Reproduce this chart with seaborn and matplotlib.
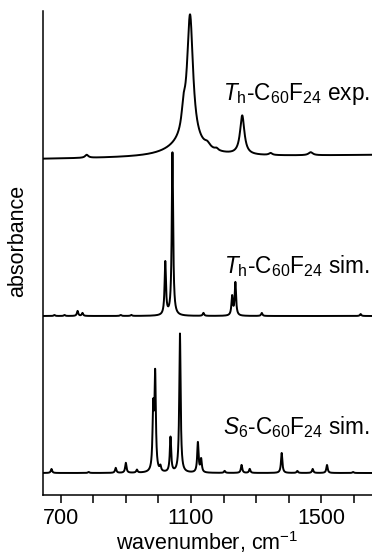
import numpy as np
import pandas as pd
import matplotlib
matplotlib.use("Agg")
import matplotlib.pyplot as plt
import seaborn as sns

# ---------------- data ----------------
# wavenumber range of the axis
x_range = [646, 1655]
tick_major = [700, 1100, 1500]
tick_minor = [800, 900, 1000, 1200, 1300, 1400, 1600]

# experimental Th-C60F24 spectrum: band centres, heights, half-widths
exp_pos = [1097, 1077, 1085, 1257, 780, 1150, 1178, 1344, 1467]
exp_height = [127, 20, 14, 39, 3, 4, 2, 2, 3]
exp_hw = [11, 7, 60, 8, 6, 10, 6, 6, 8]
exp_base = [336, 340]          # baseline level at left / right end

# simulated Th-C60F24 stick spectrum
th_pos = [681, 712, 752, 767, 884, 917, 1021, 1043, 1138, 1226, 1236, 1317, 1620]
th_height = [1, 1, 5, 3, 1, 1, 53, 163, 3, 19, 33, 3, 2]
th_base = 179

# simulated S6-C60F24 stick spectrum
s6_pos = [672, 786, 869, 900, 934, 984, 990, 1006, 1037, 1066, 1121, 1131,
          1203, 1255, 1280, 1378, 1426, 1473, 1517, 1597]
s6_height = [4, 1, 5, 10, 3, 60, 95, 5, 35, 139, 30, 13,
             2, 8, 4, 20, 2, 4, 8, 1]
s6_base = 22
sim_hw = 2.5

labels = [r"$T_{\mathrm{h}}$-C$_{60}$F$_{24}$ exp.",
          r"$T_{\mathrm{h}}$-C$_{60}$F$_{24}$ sim.",
          r"$S_{\mathrm{6}}$-C$_{60}$F$_{24}$ sim."]
label_y = [395, 222, 61]

# ---------------- build curves ----------------
grid = np.arange(x_range[0], x_range[1] + 0.25, 0.25)


def lorentz_sum(pos, height, hw):
    y = np.zeros_like(grid)
    for p, h, w in zip(pos, height, hw):
        y += h * w ** 2 / ((grid - p) ** 2 + w ** 2)
    return y


exp_y = np.interp(grid, x_range, exp_base) + lorentz_sum(exp_pos, exp_height, exp_hw)
th_y = th_base + lorentz_sum(th_pos, th_height, [sim_hw] * len(th_pos))
s6_y = s6_base + lorentz_sum(s6_pos, s6_height, [sim_hw] * len(s6_pos))

df = pd.concat([
    pd.DataFrame({"wn": grid, "a": exp_y, "s": "exp"}),
    pd.DataFrame({"wn": grid, "a": th_y, "s": "th"}),
    pd.DataFrame({"wn": grid, "a": s6_y, "s": "s6"}),
])

# ---------------- plot ----------------
sns.set_theme(style="ticks")
plt.rcParams["font.family"] = ["Liberation Sans", "DejaVu Sans"]
plt.rcParams["mathtext.fontset"] = "custom"
plt.rcParams["mathtext.rm"] = "Liberation Sans"
plt.rcParams["mathtext.it"] = "Liberation Sans:italic"

fig = plt.figure(figsize=(3.72, 5.54), dpi=100)
ax = fig.add_axes([43 / 372, (554 - 495) / 554, 1 - 43 / 372, (495 - 11) / 554])

for key in ["exp", "th", "s6"]:
    sub = df[df["s"] == key]
    sns.lineplot(data=sub, x="wn", y="a", ax=ax, color="black", lw=1.4,
                 estimator=None, sort=False)

ax.set_xlim(*x_range)
ax.set_ylim(0, 484)
ax.set_yticks([])
ax.set_xticks(tick_major)
ax.set_xticks(tick_minor, minor=True)
ax.tick_params(axis="x", which="both", direction="out", length=6, width=1.1,
               color="black", labelsize=15.5, pad=3, labelcolor="black")
for s in ["top", "right"]:
    ax.spines[s].set_visible(False)
for s in ["left", "bottom"]:
    ax.spines[s].set_color("black")
    ax.spines[s].set_linewidth(1.1)

ax.set_xlabel(r"wavenumber, cm$^{-1}$", fontsize=15.5, color="black")
ax.xaxis.set_label_coords(0.5, -0.071)
ax.set_ylabel("absorbance", fontsize=15.5, color="black")
ax.yaxis.set_label_coords(-0.045, 0.525)

for t, yv in zip(labels, label_y):
    ax.text(0.994, yv, t, transform=ax.get_yaxis_transform(), ha="right",
            va="baseline", fontsize=16.3, color="black")

fig.savefig("out.png", dpi=100)
